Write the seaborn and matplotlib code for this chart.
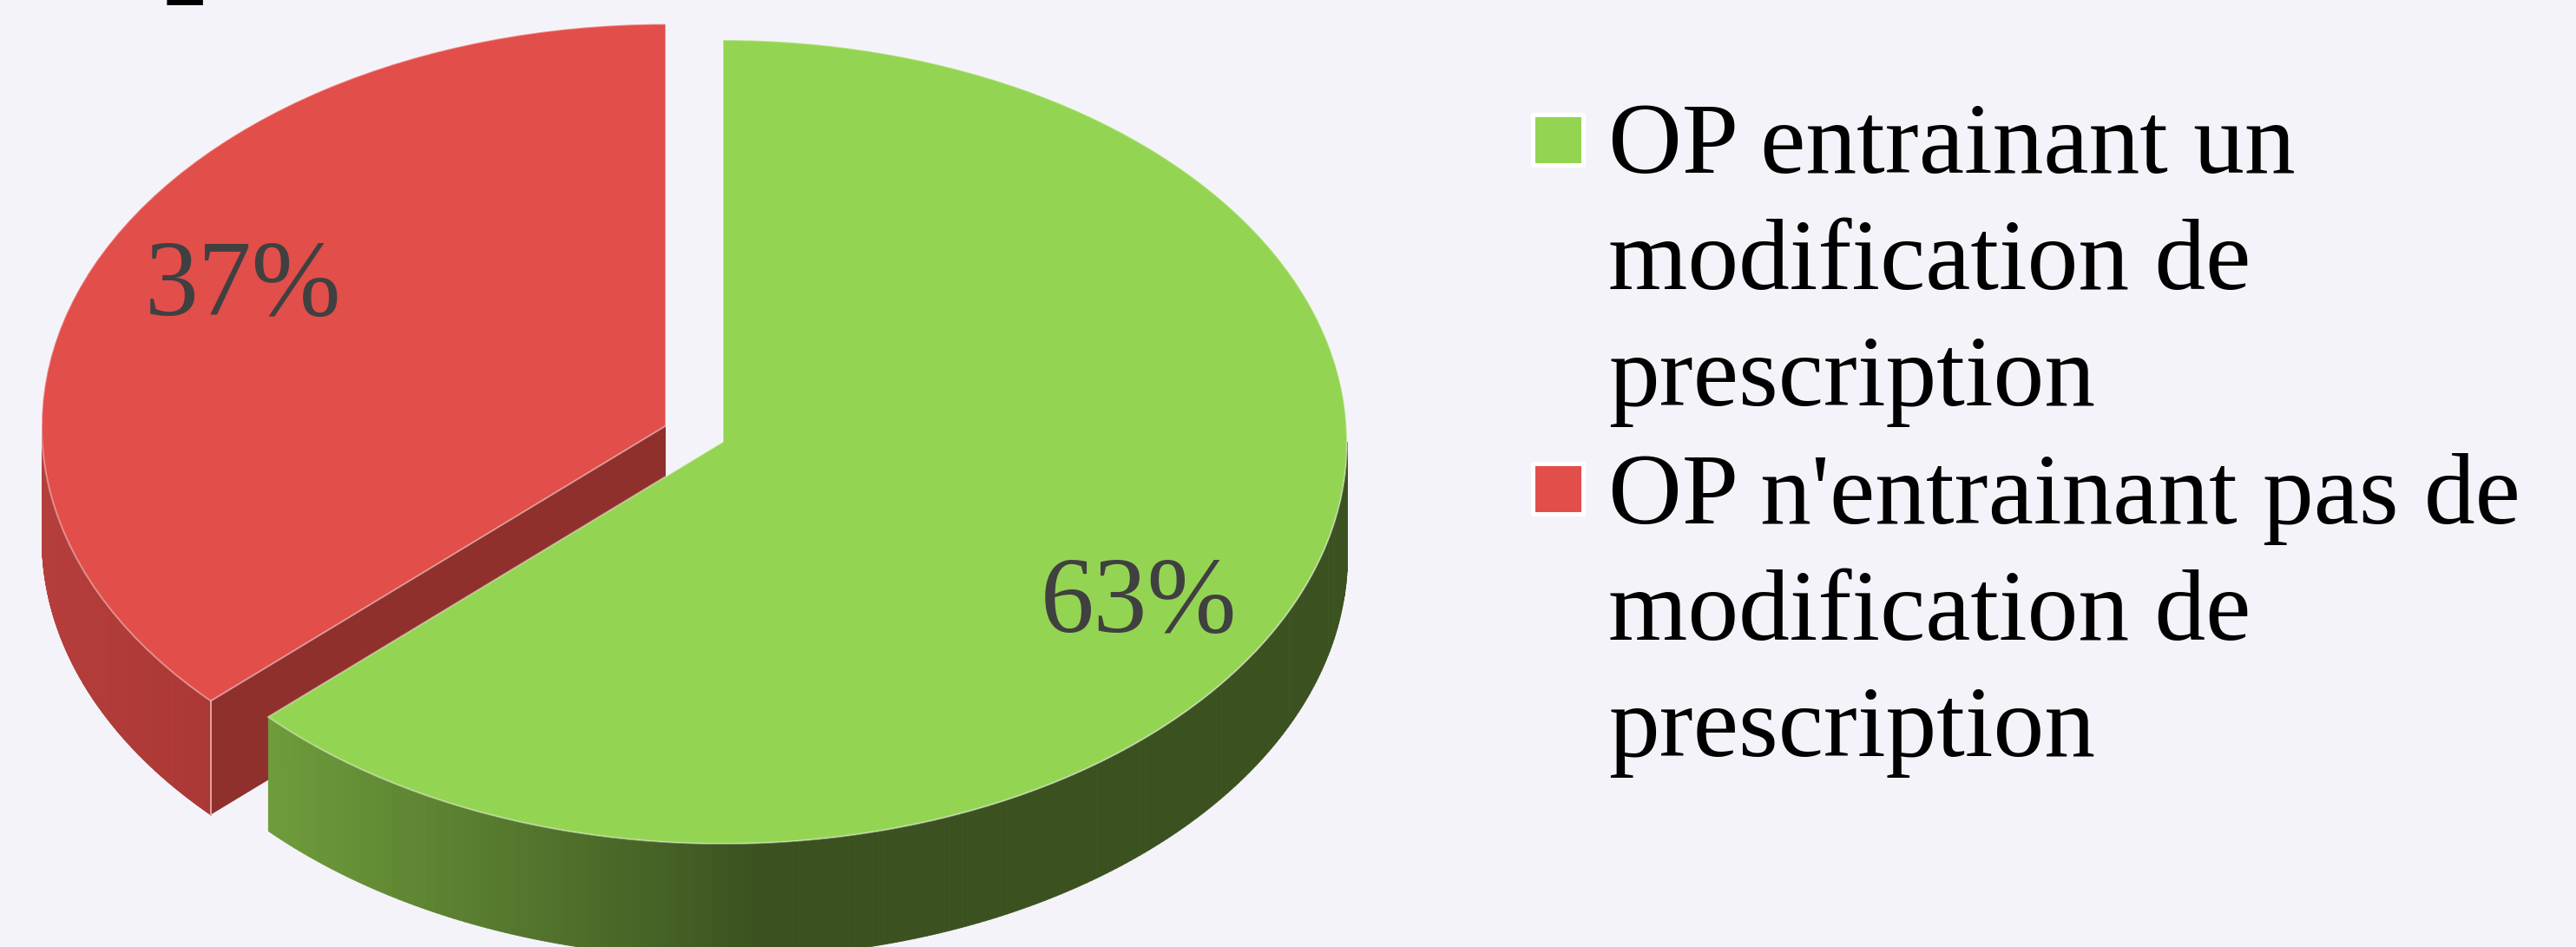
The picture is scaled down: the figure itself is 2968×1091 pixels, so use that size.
import numpy as np
import seaborn as sns
import matplotlib.pyplot as plt
from matplotlib.patches import Rectangle

sns.set_theme(style="white")
plt.rcParams['font.family'] = ['Liberation Serif', 'DejaVu Serif']

categories = ["OP entrainant un\nmodification de\nprescription",
              "OP n'entrainant pas de\nmodification de\nprescription"]
values = [63, 37]

W, H = 2968, 1091
BG = '#f4f3f9'
top_colors = sns.color_palette(['#94d453', '#e24e4a'])
green_side = sns.blend_palette(['#6e9c3b', '#3b5220'], n_colors=80)
red_side = sns.blend_palette(['#b53e3c', '#ab3735'], n_colors=40)
red_cut = '#8f302d'

# pixel geometry of the flattened pie (green wedge centre, radii, thickness)
cx_px, cy_px = 833, 509
rx_px, ry_px = 719, 463
depth = 131 / ry_px
red_explode = 0.1


def px_x(v):
  return (v - cx_px) / rx_px


def px_y(v):
  return (cy_px - v) / ry_px


def draw_side(center, a1, a2, palette, x_from, x_to, z):
  # side wall of a slice, split in small strips so the shade follows x
  th = np.radians(np.linspace(a1, a2, 240))
  xs = center[0] + np.sin(th)
  ys = center[1] + np.cos(th)
  for i in range(len(th) - 1):
    t = np.clip((xs[i] - x_from) / (x_to - x_from), 0, 1)
    col = palette[int(t * (len(palette) - 1))]
    ax.fill_between(xs[i:i + 2], ys[i:i + 2], ys[i:i + 2] - depth,
                    color=col, lw=0.7, zorder=z)


fig = plt.figure(figsize=(W / 100, H / 100), dpi=100, facecolor=BG)
ax = fig.add_axes([0, 0, 1, 1])

split = values[0] / sum(values) * 360
mid = np.radians(split + (360 - split) / 2)
red_c = (red_explode * np.sin(mid), red_explode * np.cos(mid))

# side walls first, the pie top goes over them
vx = red_c[0] + np.sin(np.radians(split))
vy = red_c[1] + np.cos(np.radians(split))
draw_side(red_c, 270, split, red_side, px_x(50), px_x(243), 0.5)
ax.fill([vx, red_c[0], red_c[0], vx],
        [vy, red_c[1], red_c[1] - depth, vy - depth],
        color=red_cut, lw=0, zorder=0.6)
ax.plot([vx, vx], [vy, vy - depth], color='#e0a5a3', lw=1.4, zorder=0.7)
draw_side((0, 0), split, 90, green_side, px_x(309), px_x(870), 0.8)

wedges, _, autotexts = ax.pie(
  values, colors=top_colors, startangle=90, counterclock=False,
  explode=[0, red_explode], radius=1, pctdistance=0.765, autopct='%.0f%%',
  wedgeprops={'edgecolor': (1, 1, 1, 0.4), 'linewidth': 1.4},
  textprops={'fontsize': 89, 'color': '#404040'})

# small nudge of the two percent labels
nudge = [(-26 / rx_px, -48 / ry_px), (18 / rx_px, 17 / ry_px)]
for txt, (dx, dy) in zip(autotexts, nudge):
  px, py = txt.get_position()
  txt.set_position((px + dx, py + dy))

ax.set_aspect('auto')
ax.set_xlim(px_x(0), px_x(W))
ax.set_ylim(px_y(H), px_y(0))
ax.axis('off')

# legend, text y is the baseline of the last line
swatch_y = [131.5, 533.5]
text_y = [467, 871]
for cat, col, sy, ty in zip(categories, top_colors, swatch_y, text_y):
  fig.add_artist(Rectangle((1765.5 / W, 1 - (sy + 58) / H), 58 / W, 58 / H,
                           transform=fig.transFigure, facecolor=col,
                           edgecolor='white', linewidth=3.6, joinstyle='round'))
  fig.text(1853 / W, 1 - ty / H, cat, fontsize=84.5, color='black', ha='left',
           va='baseline', linespacing=1.345)

# bottom of a cut off title at the top edge
fig.text(193 / W, 1 + 5 / H, '_', fontsize=58, fontweight='bold', color='black',
         ha='left', va='baseline')

fig.savefig('out.png', dpi=100, facecolor=BG)
